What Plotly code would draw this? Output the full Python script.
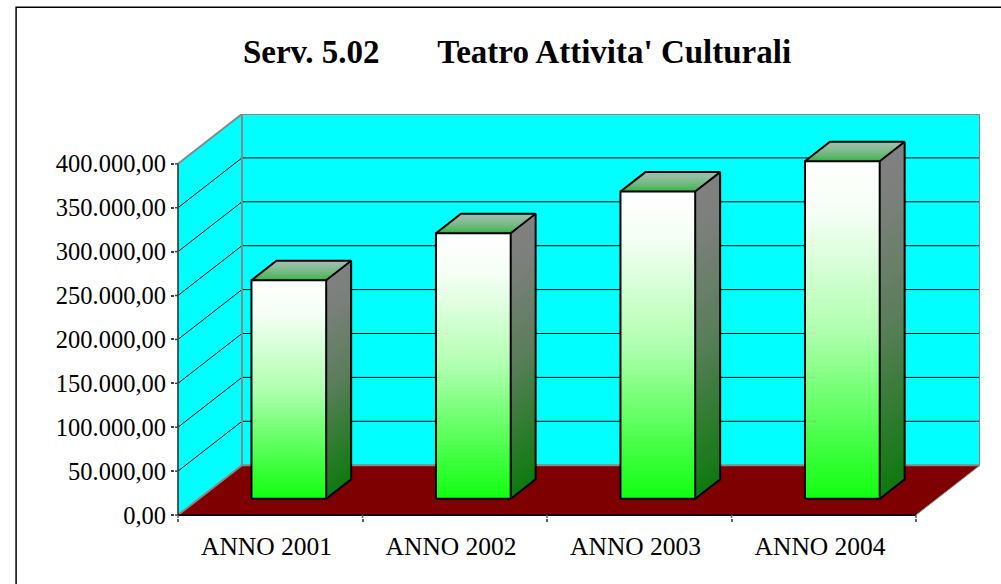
import plotly.graph_objects as go

# ---- data ----
categories = ["ANNO 2001", "ANNO 2002", "ANNO 2003", "ANNO 2004"]
values = [249000, 302500, 350000, 384500]
y_ticks = [0, 50000, 100000, 150000, 200000, 250000, 300000, 350000, 400000]
y_labels = ["0,00", "50.000,00", "100.000,00", "150.000,00", "200.000,00",
            "250.000,00", "300.000,00", "350.000,00", "400.000,00"]
title_text = "Serv. 5.02" + "\u00a0" * 7 + "Teatro Attivita' Culturali"

# ---- oblique projection settings (axis units) ----
PX_X = 184.55           # pixels per category
PX_Y = 352.5 / 400000   # pixels per value unit
DEPTH_X = 64 / PX_X     # full floor depth, horizontally
DEPTH_Y = 50 / PX_Y     # full floor depth, vertically
PAD = 3                 # pixels of axis room left of and below the front corner
BAR_W = 0.405
D0, D1 = 0.325, 0.715   # front and rear depth of the bars (share of floor depth)
BAR_SHIFT = -0.012      # bar centre relative to the category centre
n = len(categories)
Y_MAX = y_ticks[-1]


def px(cat, val, d):
    return cat + d * DEPTH_X, val + d * DEPTH_Y


def mix(a, b, t):
    return "rgb(%d,%d,%d)" % tuple(round(a[i] + (b[i] - a[i]) * t) for i in range(3))


def ease(f):
    """Gradient profile: share of the bottom colour at fraction f down from the top."""
    stops = [(0, 0), (0.15, 0.04), (0.5, 0.33), (0.75, 0.67), (1, 1)]
    for (a, ta), (b, tb) in zip(stops, stops[1:]):
        if f <= b:
            return ta + (tb - ta) * (f - a) / (b - a)
    return 1


fig = go.Figure()
shapes = []


def path(pts, closed=True):
    return "M " + " L ".join("%.5f %.5f" % p for p in pts) + (" Z" if closed else "")


def bg(pts, fill=None, line=None, width=0, closed=True):
    shapes.append(dict(type="path", xref="x", yref="y", layer="below", path=path(pts, closed),
                       fillcolor=fill or "rgba(0,0,0,0)",
                       line=dict(color=line or "rgba(0,0,0,0)", width=width)))


def poly(pts, fill=None, line=None, width=0):
    xs = [p[0] for p in pts]
    ys = [p[1] for p in pts]
    fig.add_trace(go.Scatter(
        x=xs + [xs[0]] if fill else xs, y=ys + [ys[0]] if fill else ys,
        mode="lines", fill="toself" if fill else None, fillcolor=fill,
        line=dict(color=line or "rgba(0,0,0,0)", width=width),
        hoverinfo="skip", showlegend=False))


# walls and floor
bg([px(0, 0, 0), px(0, 0, 1), px(0, Y_MAX, 1), px(0, Y_MAX, 0)], fill="#00ffff")
bg([px(0, 0, 1), px(n, 0, 1), px(n, Y_MAX, 1), px(0, Y_MAX, 1)], fill="#00ffff")
bg([px(0, 0, 0), px(n, 0, 0), px(n, 0, 1), px(0, 0, 1)], fill="#7f0000")

# gridlines on left and back wall
for v in y_ticks[1:-1]:
    bg([px(0, v, 0), px(0, v, 1), px(n, v, 1)], line="#000000", width=1, closed=False)

# wall edges
GREY = "#888888"
bg([px(0, 0, 0), px(0, 0, 1), px(n, 0, 1)], line=GREY, width=2, closed=False)
bg([px(n, 0, 1), px(n, 0, 0)], line=GREY, width=1, closed=False)
bg([px(0, Y_MAX, 0), px(0, Y_MAX, 1), px(n, Y_MAX, 1), px(n, 0, 1)], line=GREY, width=2, closed=False)
bg([px(0, Y_MAX, 1), px(0, 0, 1)], line=GREY, width=2, closed=False)

# bars
WHITE, GREEN = (255, 255, 255), (15, 255, 15)
SIDE_T, SIDE_B = (128, 128, 128), (16, 122, 16)
TOP_F, TOP_B = (45, 180, 60), (168, 190, 182)
BANDS = 64
TOP_BANDS = 14
for i, v in enumerate(values):
    c = i + 0.5 + BAR_SHIFT
    l, r = c - BAR_W / 2, c + BAR_W / 2
    # side face
    for k in range(BANDS):
        t0 = k / BANDS
        col = mix(SIDE_T, SIDE_B, ease(1 - t0))
        poly([px(r, v * t0, D0), px(r, v * t0, D1), px(r, v, D1), px(r, v, D0)], fill=col)
    # top face
    for k in range(TOP_BANDS):
        t0 = k / TOP_BANDS
        col = mix(TOP_F, TOP_B, t0 ** 0.6)
        d = D0 + (D1 - D0) * t0
        poly([px(l, v, d), px(r, v, d), px(r, v, D1), px(l, v, D1)], fill=col)
    # front face
    cx, base = px(c, 0, D0)
    fig.add_trace(go.Bar(
        x=[cx] * BANDS,
        y=[v / BANDS] * BANDS,
        base=[base + v * k / BANDS for k in range(BANDS)],
        width=BAR_W,
        marker=dict(color=[mix(WHITE, GREEN, ease(1 - (k + 0.5) / BANDS)) for k in range(BANDS)],
                    line=dict(width=0)),
        hoverinfo="skip", showlegend=False))
    # outlines
    LW = 2
    poly([px(l, 0, D0), px(r, 0, D0), px(r, v, D0), px(l, v, D0), px(l, 0, D0)], line="#000000", width=LW)
    poly([px(r, 0, D0), px(r, 0, D1), px(r, v, D1), px(r, v, D0)], line="#000000", width=LW)
    poly([px(l, v, D0), px(l, v, D1), px(r, v, D1)], line="#000000", width=LW)

# value axis line and category axis line, with the stubs joining the axis ticks to them
pad_x, pad_y = PAD / PX_X, PAD / PX_Y
poly([px(0, 0, 0), px(0, Y_MAX, 0)], line="#404040", width=1.75)
poly([px(0, 0, 0), px(n, 0, 0)], line="#000000", width=1.75)
sx, sy = [], []
for v in y_ticks:
    sx += [-pad_x, 0, None]
    sy += [v, v, None]
fig.add_trace(go.Scatter(x=sx, y=sy, mode="lines", line=dict(color="#404040", width=1.5),
                         hoverinfo="skip", showlegend=False))
sx, sy = [], []
for i in range(n + 1):
    sx += [i, i, None]
    sy += [-pad_y, 0, None]
fig.add_trace(go.Scatter(x=sx, y=sy, mode="lines", line=dict(color="#606060", width=1.5),
                         hoverinfo="skip", showlegend=False))

# outer frame (runs off the right and bottom of the page)
M_L, M_R, M_T, M_B = 177.5 - PAD, 21, 113.5, 69 - PAD
plot_w, plot_h = 1001 - M_L - M_R, 584 - M_T - M_B
shapes.insert(0, dict(type="rect", xref="paper", yref="paper", layer="below",
                      x0=(15.5 - M_L) / plot_w, x1=1.05,
                      y0=-0.2, y1=1 + (M_T - 6.5) / plot_h,
                      line=dict(color="#000000", width=1.5), fillcolor="rgba(0,0,0,0)"))

fig.update_layout(
    width=1001, height=584,
    margin=dict(l=M_L, r=M_R, t=M_T, b=M_B),
    paper_bgcolor="#ffffff", plot_bgcolor="#ffffff",
    barmode="overlay", bargap=0, showlegend=False,
    font=dict(family="Liberation Serif, Times New Roman, serif", color="#000000", size=24),
    title=dict(text="<b>" + title_text + "</b>", x=517 / 1001, xanchor="center", y=1 - 51 / 584, yanchor="middle",
               font=dict(size=33)),
    xaxis=dict(range=[-pad_x, n + DEPTH_X], showgrid=False, zeroline=False, showline=False,
               tickmode="array", tickvals=[i + 0.48 for i in range(n)], ticktext=categories,
               tickfont=dict(size=25.5),
               ticks="outside", ticklen=0, ticklabelstandoff=5,
               minor=dict(tickmode="array", tickvals=list(range(n + 1)), ticks="outside",
                          ticklen=3, tickwidth=1.5, tickcolor="#606060", showgrid=False)),
    yaxis=dict(range=[-pad_y, Y_MAX + DEPTH_Y], showgrid=False, zeroline=False, showline=False,
               tickmode="array", tickvals=y_ticks, ticktext=y_labels, tickfont=dict(size=24.5),
               ticks="outside", ticklen=3, tickwidth=1.5, tickcolor="#404040"),
    shapes=shapes,
)

fig.write_html("out.html", config={"displayModeBar": False},
               post_script="document.body.style.margin='0';document.body.style.overflow='hidden';")
